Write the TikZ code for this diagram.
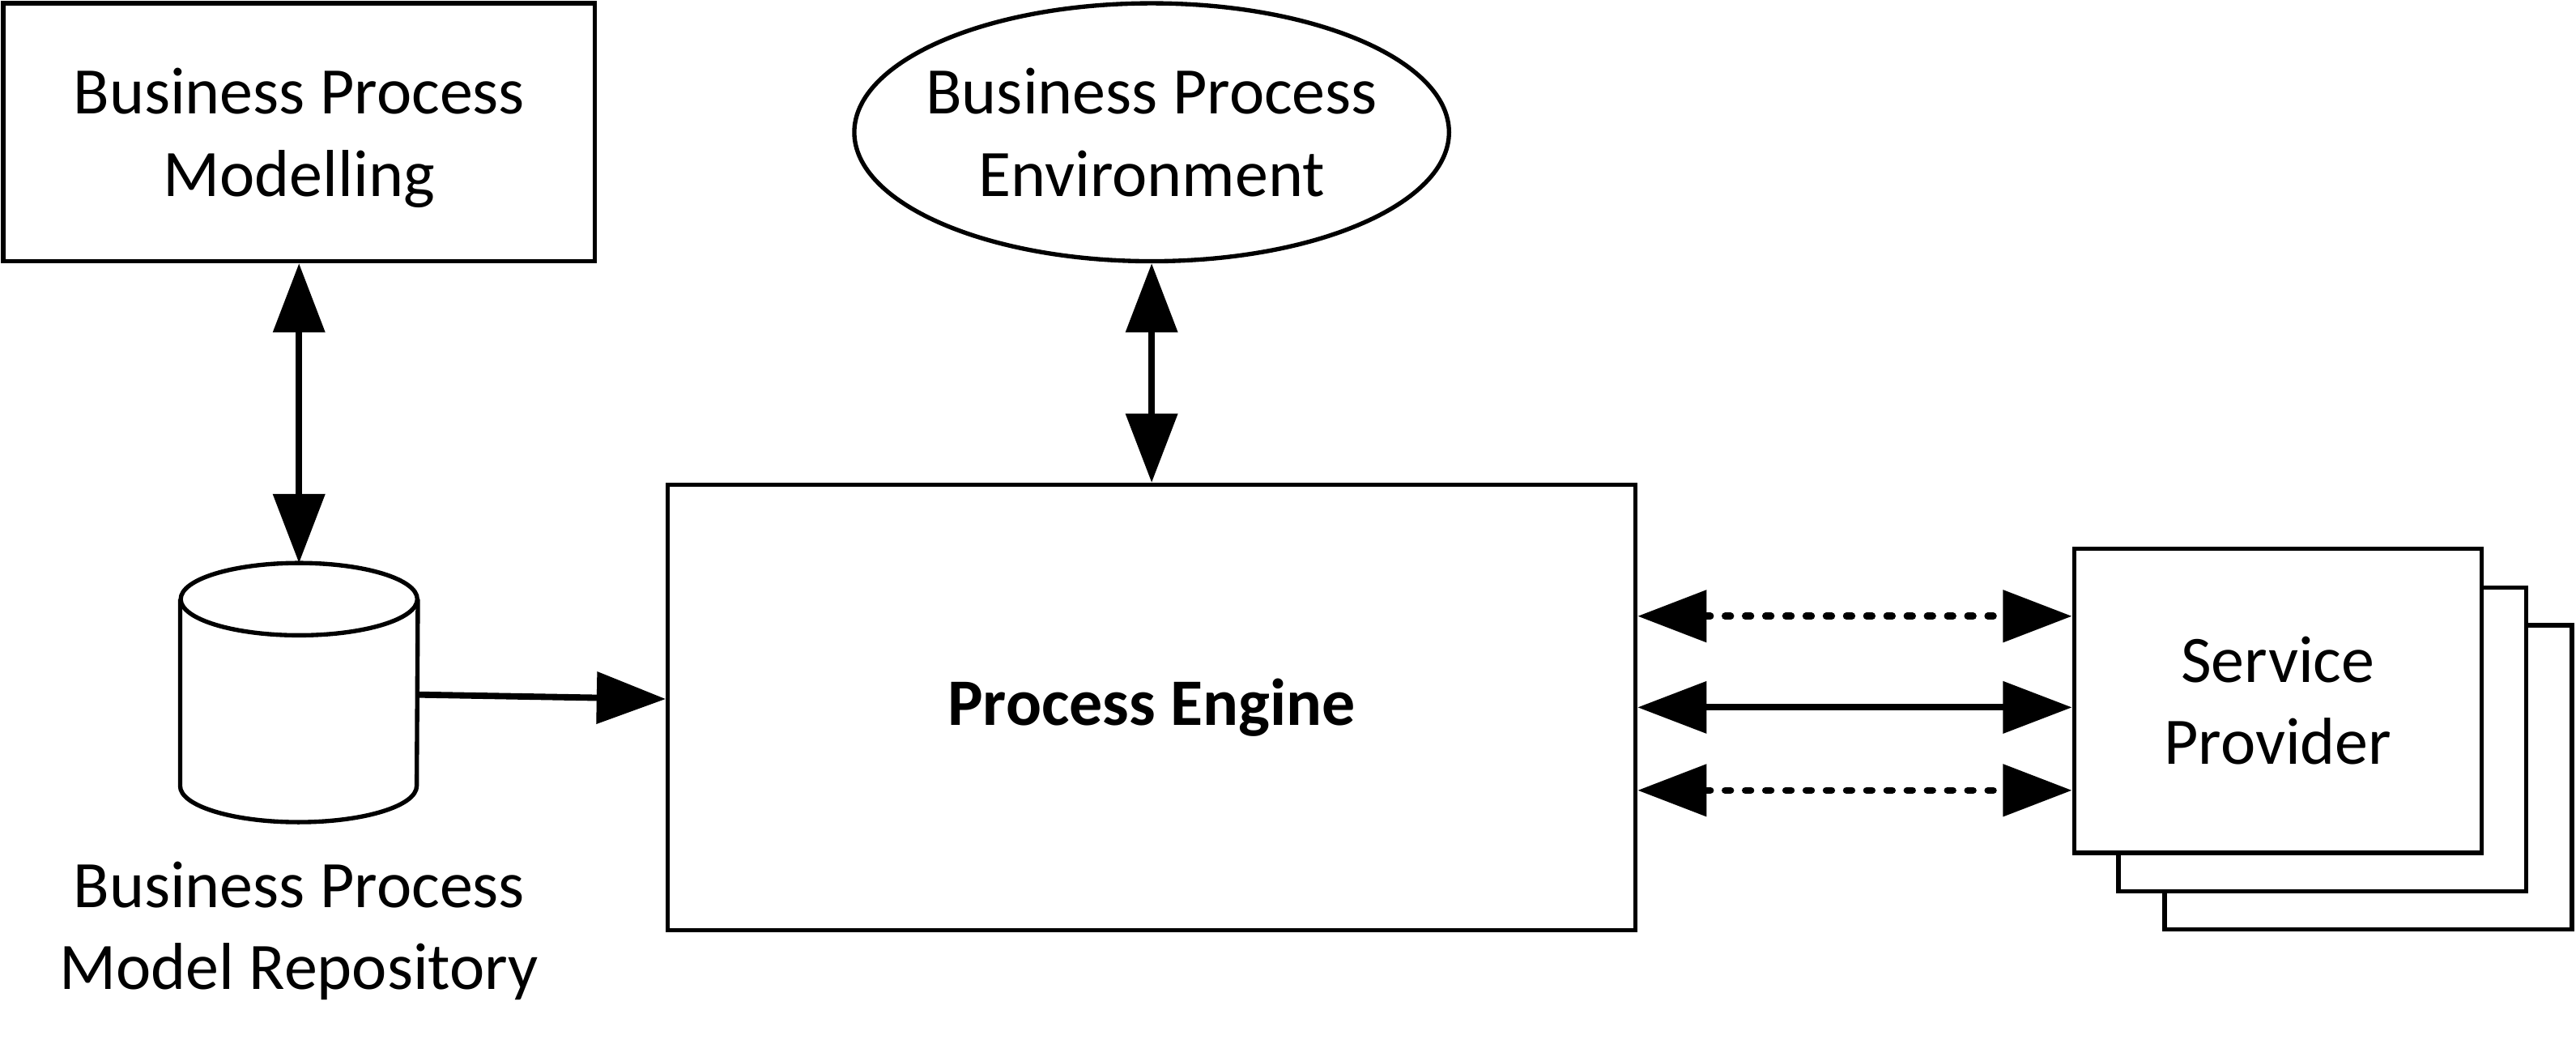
\documentclass[tikz,border=0pt]{standalone}
\usepackage{fontspec}
\setmainfont{Carlito}
\usepackage{tikz}
\usetikzlibrary{arrows.meta, positioning, shapes.geometric, backgrounds}

\begin{document}
\begin{tikzpicture}[node distance=3cm,on grid,font=\fontsize{23}{28.5}\selectfont]
    \tikzstyle{block}=[shape=rectangle,draw,line width=1.5pt,align=center,inner sep=0pt]
    \tikzstyle{spbox}=[block,fill=white,minimum width=4.96cm,minimum height=3.7cm]
    \tikzstyle{link}=[draw,line width=2.2pt,{Triangle[length=0.84cm,width=0.62cm]}-{Triangle[length=0.84cm,width=0.62cm]}]
    \tikzstyle{feed}=[draw,line width=2.2pt,-{Triangle[length=0.84cm,width=0.62cm]}]
    \tikzstyle{dots}=[link,line cap=round,dash pattern=on 1.9pt off 5.1pt,line width=2.4pt]

    \useasboundingbox (0,0) rectangle (31.36,-12.7);

    \node[block,minimum width=7.2cm,minimum height=3.14cm,text depth=0pt] (BPM) at (3.64,-1.61) {Business Process\\Modelling};
    \node[ellipse,draw,line width=1.5pt,minimum width=7.24cm,minimum height=3.14cm,inner sep=0pt,
          label={[align=center]center:Business Process\\Environment}] (BPE) [right=10.38cm of BPM] {};
    \node[minimum width=2.88cm,minimum height=3.14cm,inner sep=0pt] (Repo) [below=6.82cm of BPM] {};
    \node[align=center] (RepoText) [below=2.9cm of Repo] {Business Process\\Model Repository};
    \node[block,minimum width=11.78cm,minimum height=5.42cm,font=\fontsize{23}{28.5}\selectfont\bfseries] (Engine) [below=7cm of BPE] {Process Engine};
    \node[spbox] (SP1) [right=13.71cm of Engine, yshift=0.08cm] {Service\\Provider};

    % stacked copies behind the service provider
    \begin{scope}[on background layer]
    \node[spbox] (SP3) at ([shift={(1.1cm,-0.93cm)}]SP1) {};
    \node[spbox] (SP2) at ([shift={(0.54cm,-0.47cm)}]SP1) {};
    \end{scope}

    % repository drawn as a cylinder
    \draw[line width=1.5pt] ([yshift=-0.44cm]Repo.north) ellipse (1.44cm and 0.44cm);
    \draw[line width=1.5pt] ([yshift=-0.44cm]Repo.north west) -- ([yshift=0.44cm]Repo.south west)
        arc (180:360:1.44cm and 0.44cm) -- ([yshift=-0.44cm]Repo.north east);

    \coordinate (E1) at ([yshift=1.11cm]Engine.east);
    \coordinate (E3) at ([yshift=-1.01cm]Engine.east);
    \coordinate (S1) at (E1 -| SP1.west);
    \coordinate (S2) at (Engine.east -| SP1.west);
    \coordinate (S3) at (E3 -| SP1.west);

    \path
    (BPM) edge[link] (Repo)
    (BPE) edge[link] (Engine)
    (Repo) edge[feed] (Engine)
    (Engine.east) edge[link] (S2)
    (E1) edge[dots] (S1)
    (E3) edge[dots] (S3)
    ;

\end{tikzpicture}
\end{document}
